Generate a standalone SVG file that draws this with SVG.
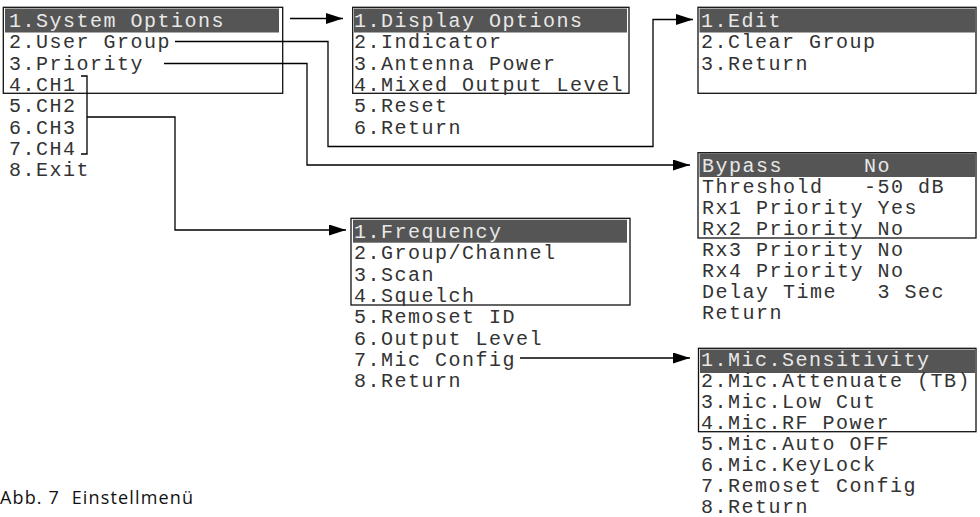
<svg xmlns="http://www.w3.org/2000/svg" width="980" height="517" viewBox="0 0 980 517" xml:space="preserve">
<style>
.box{fill:none;stroke:#111;stroke-width:1.3}
.hl{fill:#555}
.t{font-family:"Liberation Mono","DejaVu Sans Mono",monospace;font-size:20px;letter-spacing:1.5px;fill:#333;white-space:pre}
.w{fill:#e8e8e8}
.c{fill:none;stroke:#000;stroke-width:1.3}
.cap{font-family:"Open Sans","Liberation Sans",sans-serif;font-size:18px;fill:#111;white-space:pre}
</style>
<defs>
<marker id="ah" markerUnits="userSpaceOnUse" markerWidth="18" markerHeight="12" refX="17" refY="5.5" orient="auto">
<path d="M0,0 L17,5.5 L0,11 z" fill="#000"/>
</marker>
</defs>
<rect width="980" height="517" fill="#fff"/>

<g id="main-menu">
<rect class="hl" x="5" y="8.5" width="274" height="24"/>
<rect class="box" x="3.3" y="7.3" width="279.4" height="86"/>
<text class="t w" x="9" y="27">1.System Options</text>
<text class="t" x="9" y="48.3">2.User Group</text>
<text class="t" x="9" y="69.6">3.Priority</text>
<text class="t" x="9" y="90.9">4.CH1</text>
<text class="t" x="9" y="112.2">5.CH2</text>
<text class="t" x="9" y="133.5">6.CH3</text>
<text class="t" x="9" y="154.8">7.CH4</text>
<text class="t" x="9" y="176">8.Exit</text>
</g>

<g id="system-options">
<rect class="hl" x="354" y="8.5" width="273" height="24"/>
<rect class="box" x="352.7" y="7.3" width="276.3" height="86"/>
<text class="t w" x="354" y="27">1.Display Options</text>
<text class="t" x="354" y="48.3">2.Indicator</text>
<text class="t" x="354" y="69.6">3.Antenna Power</text>
<text class="t" x="354" y="90.9">4.Mixed Output Level</text>
<text class="t" x="354" y="112.2">5.Reset</text>
<text class="t" x="354" y="133.5">6.Return</text>
</g>

<g id="user-group">
<rect class="hl" x="699.5" y="8.5" width="275.5" height="24"/>
<rect class="box" x="698" y="7.3" width="278" height="86"/>
<text class="t w" x="701" y="27">1.Edit</text>
<text class="t" x="701" y="48.3">2.Clear Group</text>
<text class="t" x="701" y="69.6">3.Return</text>
</g>

<g id="priority">
<rect class="hl" x="699.5" y="153.5" width="275.5" height="23.5"/>
<rect class="box" x="698" y="152.7" width="278" height="85.3"/>
<text class="t w" x="702" y="171.5">Bypass      No</text>
<text class="t" x="702" y="192.6">Threshold   -50 dB</text>
<text class="t" x="702" y="213.7">Rx1 Priority Yes</text>
<text class="t" x="702" y="234.8">Rx2 Priority No</text>
<text class="t" x="702" y="255.9">Rx3 Priority No</text>
<text class="t" x="702" y="277">Rx4 Priority No</text>
<text class="t" x="702" y="298.1">Delay Time   3 Sec</text>
<text class="t" x="702" y="319.2">Return</text>
</g>

<g id="channel">
<rect class="hl" x="353" y="219.7" width="274" height="23"/>
<rect class="box" x="351" y="218.3" width="279" height="86.7"/>
<text class="t w" x="354" y="238">1.Frequency</text>
<text class="t" x="354" y="259.3">2.Group/Channel</text>
<text class="t" x="354" y="280.6">3.Scan</text>
<text class="t" x="354" y="301.9">4.Squelch</text>
<text class="t" x="354" y="323.2">5.Remoset ID</text>
<text class="t" x="354" y="344.5">6.Output Level</text>
<text class="t" x="354" y="365.8">7.Mic Config</text>
<text class="t" x="354" y="387">8.Return</text>
</g>

<g id="mic-config">
<rect class="hl" x="700" y="349.5" width="275" height="23.5"/>
<rect class="box" x="698.5" y="348.3" width="277.5" height="83.4"/>
<text class="t w" x="701" y="365.5">1.Mic.Sensitivity</text>
<text class="t" x="701" y="386.5">2.Mic.Attenuate (TB)</text>
<text class="t" x="701" y="407.5">3.Mic.Low Cut</text>
<text class="t" x="701" y="428.5">4.Mic.RF Power</text>
<text class="t" x="701" y="449.5">5.Mic.Auto OFF</text>
<text class="t" x="701" y="470.5">6.Mic.KeyLock</text>
<text class="t" x="701" y="491.5">7.Remoset Config</text>
<text class="t" x="701" y="512.5">8.Return</text>
</g>

<g id="connectors">
<path class="c" d="M290,18.5 H343" marker-end="url(#ah)"/>
<path class="c" d="M175,41.5 H328 V146.5 H653 V19.5 H693" marker-end="url(#ah)"/>
<path class="c" d="M164,63.5 H307 V165 H690" marker-end="url(#ah)"/>
<path class="c" d="M81,76 H87 V154 H81"/>
<path class="c" d="M87,117 H175 V230 H346" marker-end="url(#ah)"/>
<path class="c" d="M520,358 H690" marker-end="url(#ah)"/>
</g>

<text class="cap" x="0" y="504" textLength="193" lengthAdjust="spacing">Abb. 7  Einstellmenü</text>
</svg>
